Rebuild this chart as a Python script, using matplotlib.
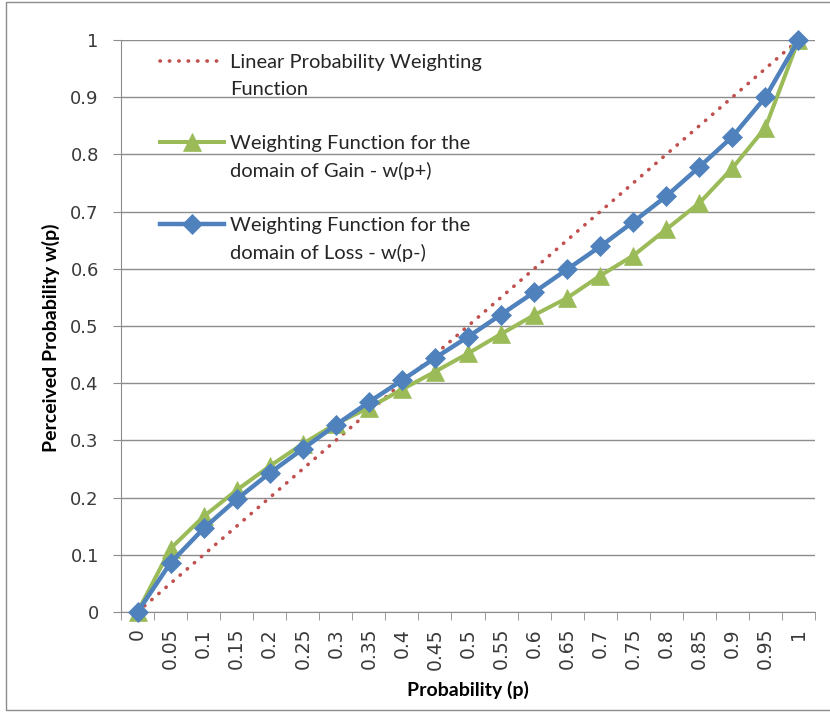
import matplotlib
matplotlib.use("Agg")
import matplotlib.pyplot as plt
from matplotlib.patches import Rectangle

# category axis: probability p
p_labels = ["0", "0.05", "0.1", "0.15", "0.2", "0.25", "0.3", "0.35", "0.4", "0.45", "0.5",
            "0.55", "0.6", "0.65", "0.7", "0.75", "0.8", "0.85", "0.9", "0.95", "1"]
linear = [0, 0.05, 0.1, 0.15, 0.2, 0.25, 0.3, 0.35, 0.4, 0.45, 0.5,
          0.55, 0.6, 0.65, 0.7, 0.75, 0.8, 0.85, 0.9, 0.95, 1.0]
w_gain = [0, 0.111, 0.167, 0.213, 0.255, 0.294, 0.329, 0.357, 0.389, 0.420, 0.452,
          0.486, 0.519, 0.549, 0.588, 0.623, 0.669, 0.715, 0.776, 0.847, 1.0]
w_loss = [0, 0.086, 0.146, 0.197, 0.243, 0.285, 0.327, 0.367, 0.405, 0.444, 0.481,
          0.520, 0.559, 0.599, 0.639, 0.682, 0.727, 0.778, 0.831, 0.900, 1.0]

RED, GREEN, BLUE, GRID = "#C0504D", "#9BBB59", "#4F81BD", "#8C8C8C"

fig = plt.figure(figsize=(8.30, 7.14), dpi=100)
ax = fig.add_axes([121 / 830, 102 / 714, 694 / 830, 572 / 714])
x = list(range(len(p_labels)))

ax.plot(x, linear, color=RED, lw=2.6, linestyle=(0, (0.1, 2.5)), dash_capstyle="round",
        label="Linear Probability Weighting\nFunction", zorder=3)
ax.plot(x, w_gain, color=GREEN, lw=2.9, marker="^", ms=12.5, mec=GREEN, mew=0.5,
        label="Weighting Function for the\ndomain of Gain - w(p+)", zorder=4, clip_on=False)
ax.plot(x, w_loss, color=BLUE, lw=3.2, marker="D", ms=10, mec=BLUE, mew=0.5,
        label="Weighting Function for the\ndomain of Loss - w(p-)", zorder=5, clip_on=False)

ax.set_xlim(-0.5, len(x) - 0.5)
ax.set_ylim(0, 1)
ax.set_yticks([i / 10 for i in range(11)])
ax.set_yticklabels(["0", "0.1", "0.2", "0.3", "0.4", "0.5", "0.6", "0.7", "0.8", "0.9", "1"],
                   fontsize=13, family="DejaVu Sans")
ax.set_xticks(x)
ax.set_xticklabels(p_labels, rotation=90, fontsize=13.5, family="DejaVu Sans")
ax.set_xticks([i - 0.5 for i in range(len(x) + 1)], minor=True)
ax.tick_params(axis="x", which="major", length=0, pad=11.5)
ax.tick_params(axis="x", which="minor", length=6, color=GRID, direction="out")
ax.tick_params(axis="y", length=6, color=GRID, pad=10)
for t in ax.get_xticklabels() + ax.get_yticklabels():
    t.set_color("#3A3A3A")
ax.grid(axis="y", color=GRID, lw=1)
ax.set_axisbelow(True)
for s in ("top", "right"):
    ax.spines[s].set_visible(False)
for s in ("left", "bottom"):
    ax.spines[s].set_color(GRID)

ax.set_xlabel("Probability (p)", fontsize=14, fontweight="bold", family="Lato")
ax.set_ylabel("Perceived Probability w(p)", fontsize=14, fontweight="bold", family="Lato")
ax.xaxis.set_label_coords(0.5, -0.12)
ax.yaxis.set_label_coords(-0.088, 0.48)

leg = ax.legend(loc="upper left", bbox_to_anchor=(0.056, 0.975), frameon=False, borderpad=0,
                borderaxespad=0, handlelength=3.2, handletextpad=0.3, labelspacing=1.85,
                prop={"family": "Lato", "size": 14.5})
for t in leg.get_texts():
    t.set_color("#262626")
    t.set_linespacing(1.66)
for col in leg._legend_handle_box.get_children():
    for hp in col.get_children():
        hp.align = "top"

fig.patches.append(Rectangle((6 / 830, 4 / 714), 1.0, 708 / 714, transform=fig.transFigure,
                             fill=False, edgecolor="#8C8C8C", lw=1))
fig.savefig("out.png", dpi=100)
